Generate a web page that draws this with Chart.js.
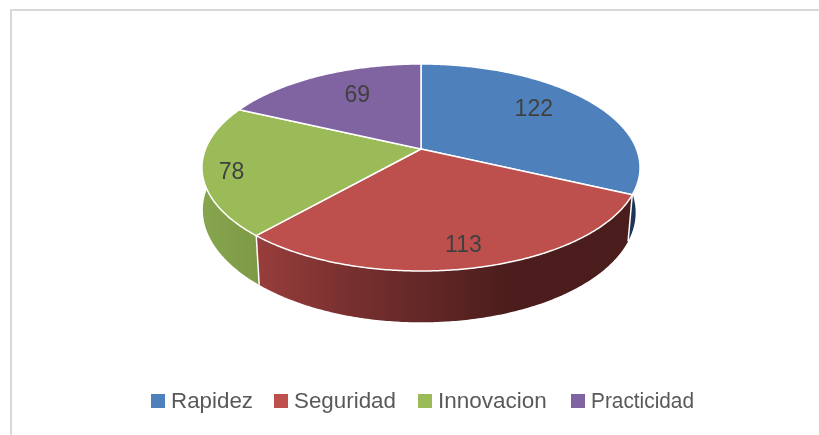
<!DOCTYPE html>
<html>
<head>
<meta charset="utf-8">
<style>html,body{margin:0;padding:0;background:#fff}canvas{display:block;filter:blur(0.3px)}</style>
<script src="https://cdn.jsdelivr.net/npm/chart.js@4/dist/chart.umd.js"></script>
</head>
<body>
<canvas id="c" width="819" height="435" style="width:819px;height:435px"></canvas>
<script>
const categories = ['Rapidez', 'Seguridad', 'Innovacion', 'Practicidad'];
const values = [122, 113, 78, 69];
const topColors = ['#4e80bc', '#bd4f4c', '#9bbb59', '#8064a2'];
const sideStops = [
  [[0, '#1c3557'], [1, '#1c3557']],
  [[0, '#983e3c'], [0.22, '#7b3130'], [0.51, '#5c2524'], [0.66, '#4c1d1c'], [1, '#4b1c1c']],
  [[0, '#87a54e'], [1, '#7d9a46']],
  [[0, '#4d3c62'], [1, '#4d3c62']]
];
const labelRadius = [0.66, 0.85, 0.87, 0.6];
const labelShiftY = [-6, -1, 5, -7];
const legendLeft = [151, 274, 418, 571];
const legendTextWidth = [82, 102, 109, 103];

const FONT = '"Liberation Sans", Arial, sans-serif';
const view = { cx: 421, cy: 149, R: 215.5, S: 100.2, p: 0.1787, lowerY: 1.06, lift: 44 };

function project(a, f) {
  const u = Math.cos(a) * f, v = Math.sin(a) * f, w = 1 - view.p * v;
  return [view.cx + view.R * u / w, view.cy + view.S * v / w];
}
function projectLow(a) {
  const q = project(a, 1);
  const u = Math.cos(a), v = Math.sin(a);
  const sx = u > 0 ? 0.98 : 1 - 0.024 * Math.max(v, 0);
  return [view.cx + (q[0] - view.cx) * sx, view.cy + view.lift + (q[1] - view.cy) * view.lowerY];
}
function rimPath(ctx, a0, a1, fn, first) {
  const n = Math.max(2, Math.ceil(Math.abs(a1 - a0) / 0.01));
  for (let i = 0; i <= n; i++) {
    const q = fn(a0 + (a1 - a0) * i / n);
    if (i === 0 && first) ctx.moveTo(q[0], q[1]); else ctx.lineTo(q[0], q[1]);
  }
}

// The library's own arc elements, drawn on the tilted disc.
Chart.ArcElement.prototype.draw = function (ctx) {
  const { startAngle, endAngle } = this.getProps(['startAngle', 'endAngle']);
  const o = this.options;
  ctx.save();
  ctx.beginPath();
  ctx.moveTo(view.cx, view.cy);
  rimPath(ctx, startAngle, endAngle, a => project(a, 1), false);
  ctx.closePath();
  ctx.fillStyle = o.backgroundColor;
  ctx.fill();
  ctx.lineJoin = 'round';
  ctx.strokeStyle = o.borderColor;
  ctx.lineWidth = o.borderWidth;
  ctx.stroke();
  ctx.restore();
};

const scene = {
  id: 'scene',
  beforeDatasetsDraw(chart) {
    const ctx = chart.ctx;
    ctx.save();
    ctx.fillStyle = '#d9d9d9';
    ctx.fillRect(10, 9, 809, 2);
    ctx.fillRect(10, 9, 2, 426);
    const arcs = chart.getDatasetMeta(0).data;
    [3, 0, 2, 1].forEach(i => {
      const s = arcs[i].getProps(['startAngle', 'endAngle']);
      ctx.beginPath();
      rimPath(ctx, s.startAngle, s.endAngle, a => project(a, 1), true);
      rimPath(ctx, s.endAngle, s.startAngle, projectLow, false);
      ctx.closePath();
      const xs = [];
      for (let k = 0; k <= 40; k++) xs.push(project(s.startAngle + (s.endAngle - s.startAngle) * k / 40, 1)[0]);
      const x0 = Math.min(...xs), x1 = Math.max(...xs);
      const g = ctx.createLinearGradient(x0, 0, x1, 0);
      sideStops[i].forEach(st => g.addColorStop(st[0], st[1]));
      ctx.fillStyle = g;
      ctx.fill();
    });
    ctx.strokeStyle = '#ffffff';
    ctx.lineWidth = 1.5;
    [0, 1].forEach(i => {
      const a = arcs[i].getProps(['endAngle']).endAngle;
      const t = project(a, 1), b = projectLow(a);
      ctx.beginPath(); ctx.moveTo(t[0], t[1]); ctx.lineTo(b[0], b[1]); ctx.stroke();
    });
    ctx.restore();
  },
  afterDatasetsDraw(chart) {
    const ctx = chart.ctx;
    const arcs = chart.getDatasetMeta(0).data;
    ctx.save();
    ctx.font = '23px ' + FONT;
    ctx.fillStyle = '#404040';
    ctx.textAlign = 'center';
    ctx.textBaseline = 'middle';
    arcs.forEach((el, i) => {
      const s = el.getProps(['startAngle', 'endAngle']);
      const q = project((s.startAngle + s.endAngle) / 2, labelRadius[i]);
      ctx.fillText(String(values[i]), q[0] - (i === 1 ? 1.5 : 0), q[1] + labelShiftY[i]);
    });
    ctx.textAlign = 'left';
    ctx.textBaseline = 'alphabetic';
    ctx.font = '22.5px ' + FONT;
    categories.forEach((name, i) => {
      ctx.fillStyle = topColors[i];
      ctx.fillRect(legendLeft[i], 394, 14, 14);
      ctx.fillStyle = '#595959';
      ctx.fillText(name, legendLeft[i] + 20, 408, legendTextWidth[i]);
    });
    ctx.restore();
  }
};

new Chart(document.getElementById('c'), {
  type: 'pie',
  data: {
    labels: categories,
    datasets: [{
      data: values,
      backgroundColor: topColors,
      borderColor: '#ffffff',
      borderWidth: 1.5
    }]
  },
  options: {
    responsive: false,
    animation: false,
    plugins: { legend: { display: false }, tooltip: { enabled: false } }
  },
  plugins: [scene]
});
</script>
</body>
</html>
